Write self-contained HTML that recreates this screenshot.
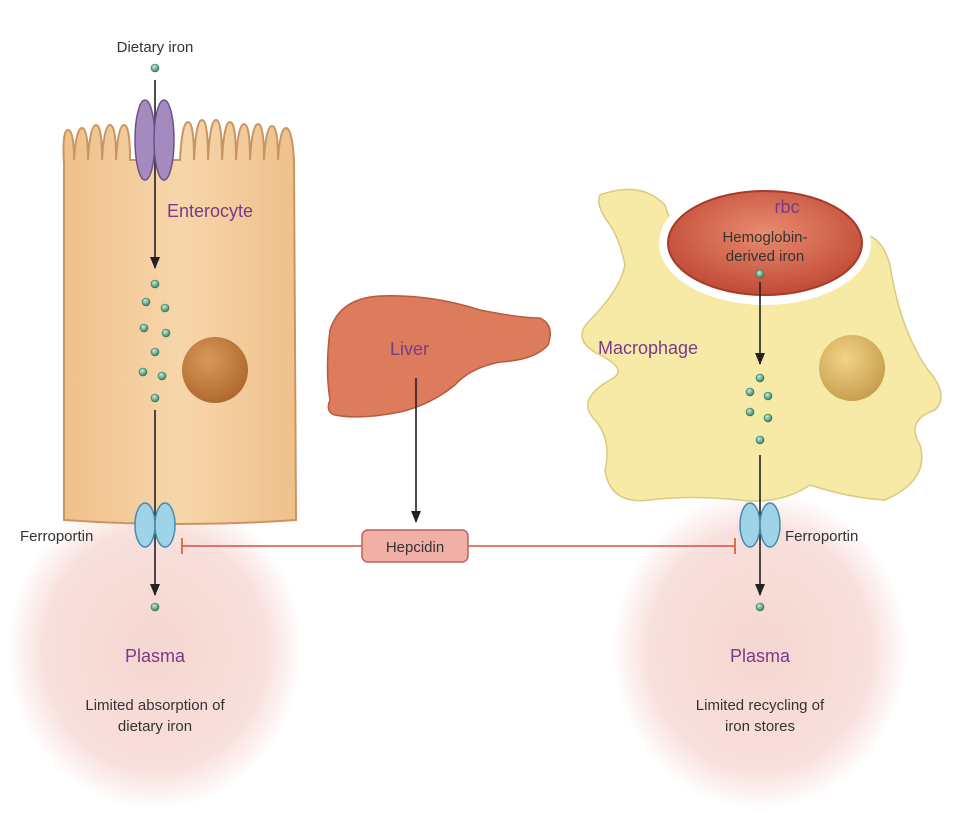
<!DOCTYPE html>
<html><head><meta charset="utf-8"><style>
html,body{margin:0;padding:0;background:#fff;}
svg{display:block;font-family:"Liberation Sans",sans-serif;}
</style></head><body>
<svg width="955" height="813" viewBox="0 0 955 813">
<defs>
<radialGradient id="pl" cx="50%" cy="50%" r="50%">
<stop offset="0" stop-color="#f6d6d0"/><stop offset="0.75" stop-color="#f8e0dc"/><stop offset="1" stop-color="#fff"/>
</radialGradient>
<linearGradient id="ent" x1="0" y1="0" x2="1" y2="0">
<stop offset="0" stop-color="#efc08a"/><stop offset="0.5" stop-color="#f7d6ab"/><stop offset="1" stop-color="#efc08a"/>
</linearGradient>
<radialGradient id="nuc" cx="40%" cy="35%" r="65%"><stop offset="0" stop-color="#d89a58"/><stop offset="1" stop-color="#b06a30"/></radialGradient>
<radialGradient id="nuc2" cx="40%" cy="35%" r="65%"><stop offset="0" stop-color="#f0d488"/><stop offset="1" stop-color="#c9a050"/></radialGradient>
<radialGradient id="rbc" cx="50%" cy="40%" r="60%"><stop offset="0" stop-color="#e98c70"/><stop offset="1" stop-color="#c04a35"/></radialGradient>
<radialGradient id="dot" cx="40%" cy="35%" r="60%"><stop offset="0" stop-color="#c8ecd8"/><stop offset="1" stop-color="#3a8a6a"/></radialGradient>
<marker id="ah" markerWidth="12" markerHeight="10" refX="11" refY="5" orient="auto" markerUnits="userSpaceOnUse"><path d="M0,0 L12,5 L0,10 z" fill="#222"/></marker>
</defs>
<ellipse cx="155" cy="650" rx="148" ry="160" fill="url(#pl)"/>
<ellipse cx="760" cy="650" rx="148" ry="160" fill="url(#pl)"/>
<!-- enterocyte -->
<path d="M64,520 L64,165 Q62,130 68,130 Q74,130 74,160 Q76,128 82,128 Q88,128 88,160 Q90,125 96,125 Q102,125 102,160 Q104,125 110,125 Q116,125 116,160 Q118,125 124,125 Q130,125 130,160 L180,160 Q182,122 188,122 Q194,122 194,160 Q196,120 202,120 Q208,120 208,160 Q210,120 216,120 Q222,120 222,160 Q224,122 230,122 Q236,122 236,160 Q238,124 244,124 Q250,124 250,160 Q252,124 258,124 Q264,124 264,160 Q266,126 272,126 Q278,126 278,160 Q280,128 286,128 Q292,128 294,160 L296,520 Q180,528 64,520 Z" fill="url(#ent)" stroke="#c99560" stroke-width="2"/>
<circle cx="215" cy="370" r="33" fill="url(#nuc)"/>
<!-- macrophage -->
<path d="M600,195 Q640,180 665,205 Q680,260 760,272 Q840,270 855,235 Q880,230 890,265 Q900,330 928,370 Q950,395 935,410 Q905,420 920,445 Q930,480 885,500 Q850,498 810,485 Q780,505 740,500 Q690,495 650,500 Q610,505 605,470 Q612,440 595,420 Q575,400 610,380 Q630,370 600,355 Q570,340 590,320 Q620,290 625,265 Q620,240 610,225 Q595,205 600,195 Z" fill="#f7eaa6" stroke="#dcc980" stroke-width="1.5"/>
<circle cx="852" cy="368" r="33" fill="url(#nuc2)"/>
<ellipse cx="765" cy="243" rx="106" ry="62" fill="#fff"/>
<ellipse cx="765" cy="243" rx="97" ry="52" fill="url(#rbc)" stroke="#a83a28" stroke-width="2"/>
<!-- liver -->
<path d="M330,330 Q340,298 380,296 Q430,294 480,310 Q520,318 540,318 Q555,325 548,345 Q535,360 500,362 Q470,368 455,385 Q430,405 400,412 Q360,420 335,415 Q325,412 330,400 Q325,370 330,330 Z" fill="#dc7c5c" stroke="#b85a3e" stroke-width="1.5"/>
<!-- arrows -->
<g stroke="#222" stroke-width="1.6" fill="none">
<line x1="155" y1="80" x2="155" y2="268" marker-end="url(#ah)"/>
<line x1="155" y1="410" x2="155" y2="595" marker-end="url(#ah)"/>
<line x1="416" y1="378" x2="416" y2="522" marker-end="url(#ah)"/>
<line x1="760" y1="282" x2="760" y2="364" marker-end="url(#ah)"/>
<line x1="760" y1="455" x2="760" y2="595" marker-end="url(#ah)"/>
</g>
<!-- inhibition -->
<g stroke="#d9503a" stroke-width="1.6">
<line x1="182" y1="546" x2="362" y2="546"/><line x1="182" y1="538" x2="182" y2="554"/>
<line x1="468" y1="546" x2="735" y2="546"/><line x1="735" y1="538" x2="735" y2="554"/>
</g>
<rect x="362" y="530" width="106" height="32" rx="6" fill="#f0b0a6" stroke="#c0605a" stroke-width="1.5"/>
<text x="415" y="552" font-size="15" text-anchor="middle" fill="#333">Hepcidin</text>
<!-- channels -->
<ellipse cx="145" cy="140" rx="10" ry="40" fill="#a58ac0" stroke="#6a5288" stroke-width="1.5"/>
<ellipse cx="164" cy="140" rx="10" ry="40" fill="#a58ac0" stroke="#6a5288" stroke-width="1.5"/>
<ellipse cx="145" cy="525" rx="10" ry="22" fill="#9fd4e8" stroke="#4a8aa8" stroke-width="1.5"/>
<ellipse cx="165" cy="525" rx="10" ry="22" fill="#9fd4e8" stroke="#4a8aa8" stroke-width="1.5"/>
<ellipse cx="750" cy="525" rx="10" ry="22" fill="#9fd4e8" stroke="#4a8aa8" stroke-width="1.5"/>
<ellipse cx="770" cy="525" rx="10" ry="22" fill="#9fd4e8" stroke="#4a8aa8" stroke-width="1.5"/>
<!-- dots -->
<g fill="url(#dot)" stroke="#2f6f55" stroke-width="0.6">
<circle cx="155" cy="68" r="4"/>
<circle cx="155" cy="284" r="4"/><circle cx="146" cy="302" r="4"/><circle cx="165" cy="308" r="4"/>
<circle cx="144" cy="328" r="4"/><circle cx="166" cy="333" r="4"/><circle cx="155" cy="352" r="4"/>
<circle cx="143" cy="372" r="4"/><circle cx="162" cy="376" r="4"/><circle cx="155" cy="398" r="4"/>
<circle cx="155" cy="607" r="4"/>
<circle cx="760" cy="274" r="4"/>
<circle cx="760" cy="378" r="4"/><circle cx="750" cy="392" r="4"/><circle cx="768" cy="396" r="4"/>
<circle cx="750" cy="412" r="4"/><circle cx="768" cy="418" r="4"/><circle cx="760" cy="440" r="4"/>
<circle cx="760" cy="607" r="4"/>
</g>
<!-- labels -->
<g font-size="15" fill="#333">
<text x="155" y="52" text-anchor="middle">Dietary iron</text>
<text x="20" y="541">Ferroportin</text>
<text x="785" y="541">Ferroportin</text>
<text x="155" y="710" text-anchor="middle">Limited absorption of</text>
<text x="155" y="731" text-anchor="middle">dietary iron</text>
<text x="760" y="710" text-anchor="middle">Limited recycling of</text>
<text x="760" y="731" text-anchor="middle">iron stores</text>
<text x="765" y="242" text-anchor="middle">Hemoglobin-</text>
<text x="765" y="261" text-anchor="middle">derived iron</text>
</g>
<g font-size="18" fill="#7a3a8a">
<text x="167" y="217">Enterocyte</text>
<text x="390" y="355">Liver</text>
<text x="598" y="354">Macrophage</text>
<text x="787" y="213" text-anchor="middle">rbc</text>
<text x="155" y="662" text-anchor="middle">Plasma</text>
<text x="760" y="662" text-anchor="middle">Plasma</text>
</g>
</svg>
</body></html>
